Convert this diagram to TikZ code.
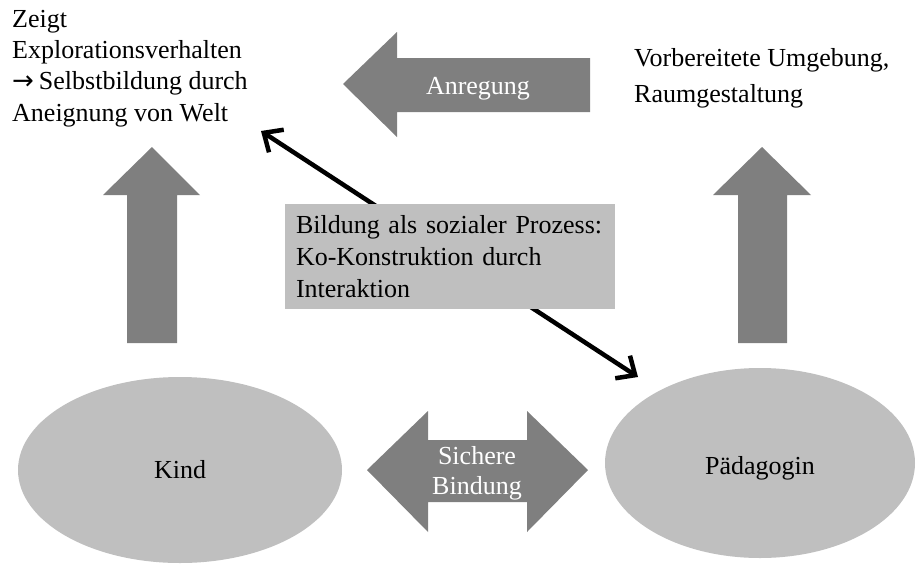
\documentclass[tikz,border=0pt]{standalone}
\usepackage{fontspec}
\setmainfont{Liberation Serif}
\newfontfamily\arrowfont{DejaVu Sans}
\usetikzlibrary{shapes.geometric,arrows.meta}
\definecolor{blockgrey}{HTML}{7F7F7F}
\definecolor{fillgrey}{HTML}{BFBFBF}
\begin{document}
\begin{tikzpicture}[x=1pt,y=-1pt,
  txt/.style={font=\fontsize{26}{31.3}\selectfont, inner sep=0pt},
  blockarrow/.style={fill=blockgrey, draw=none},
  arrowlabel/.style={txt, text=white, align=center},
  blob/.style={ellipse, fill=fillgrey, draw=none, inner sep=0pt,
    font=\fontsize{26}{31}\selectfont},
  infobox/.style={fill=fillgrey, draw=none, align=left, inner xsep=11pt,
    inner ysep=0pt, text width=308pt, minimum height=105pt,
    font=\fontsize{26}{32}\selectfont},
  link/.style={line width=4.5pt,
    {Straight Barb[length=15pt,width=27pt]}-{Straight Barb[length=15pt,width=27pt]}}
]
\useasboundingbox (0,0) rectangle (916,563);

% texts at the top (anchored at the baseline of their last line)
\node[txt, align=left, anchor=base west] (explore) at (12,121)
  {Zeigt\\Explorationsverhalten\\{\arrowfont\fontsize{26}{31.3}\selectfont →}\hspace{5pt}Selbstbildung durch\\Aneignung von Welt};
\node[txt, align=left, anchor=base west, font=\fontsize{26}{36}\selectfont]
  (umgebung) at (634,102) {Vorbereitete Umgebung,\\Raumgestaltung};

% arrow "Anregung" pointing left
\path[blockarrow] (343,84) -- (397,32) -- (397,58) -- (590,58) -- (590,112)
  -- (397,112) -- (397,137) -- cycle;
\node[arrowlabel, anchor=base] (anregung) at (478,94) {Anregung};

% upward arrows
\path[blockarrow] (152,147) -- (200,195) -- (177,195) -- (177,343)
  -- (127,343) -- (127,195) -- (103,195) -- cycle;
\path[blockarrow] (762,147) -- (811,195) -- (787,195) -- (787,343)
  -- (738,343) -- (738,195) -- (713,195) -- cycle;

% diagonal link behind the box
\coordinate (linkA) at (261,131);
\coordinate (linkB) at (638,377);
\draw[link] (linkA) -- (linkB);

\node[infobox] (bildung) at (450,256.5)
  {Bildung als sozialer Prozess:\\Ko-Konstruktion durch\\Interaktion};

% persons
\node[blob, minimum width=324pt, minimum height=186pt] (kind) at (180,470) {Kind};
\node[blob, minimum width=310pt, minimum height=190pt] (paed) at (760,463) {};
\node[txt] (paedtext) at ([yshift=-5pt]paed.center) {Pädagogin};

% double arrow "Sichere Bindung"
\path[blockarrow] (367,470) -- (428,411) -- (428,440) -- (527,440) -- (527,411)
  -- (588,470) -- (527,532) -- (527,502) -- (428,502) -- (428,532) -- cycle;
\node[arrowlabel, font=\fontsize{26}{30}\selectfont] (bindung) at (477,473)
  {Sichere\\Bindung};
\end{tikzpicture}
\end{document}
